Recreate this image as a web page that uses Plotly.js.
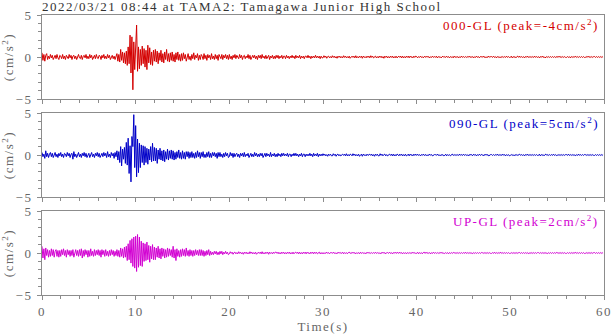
<!DOCTYPE html>
<html>
<head>
<meta charset="utf-8">
<script src="https://cdn.plot.ly/plotly-3.0.1.min.js"></script>
<style>
  html, body { margin: 0; padding: 0; background: #fff; }
  #wave { width: 612px; height: 334px; }
  text { letter-spacing: 1.5px; }
</style>
</head>
<body>
<div id="wave"></div>
<script>
// acceleration, one value every 0.1 s (one row = 1 s)
var dt = 0.1;

var ns = [
  0.5,-0.4,0.3,-0.5,0.2,0.4,-0.3,0.1,-0.2,0.3,
  -0.1,0.2,-0.3,0.1,0.2,-0.2,0.3,-0.1,-0.3,0.2,
  0.1,-0.2,0.3,-0.2,0.1,-0.3,0.2,0.0,-0.2,0.3,
  -0.1,0.2,-0.3,0.1,0.2,-0.2,0.1,-0.3,0.2,0.3,
  -0.1,-0.2,0.2,-0.3,0.1,0.2,-0.1,0.3,-0.2,0.1,
  -0.2,0.3,-0.1,0.2,-0.3,0.1,0.2,-0.2,0.3,-0.1,
  -0.2,0.2,0.1,-0.3,0.2,-0.1,0.3,-0.2,0.1,-0.2,
  0.3,-0.1,0.2,-0.3,0.1,0.2,-0.2,0.1,-0.3,0.2,
  0.4,-0.5,0.3,-0.6,0.9,-0.4,0.6,-0.7,0.5,-0.8,
  0.7,-1.0,1.2,-0.8,2.6,-1.9,2.4,-3.9,1.8,-1.5,
  2.5,3.8,-1.7,1.2,-1.4,0.9,-1.0,1.3,-0.8,1.0,
  -1.2,0.8,-1.5,1.4,-0.7,1.1,-0.9,0.6,-1.0,0.8,
  -0.5,0.9,-0.6,0.7,-0.8,0.5,-0.4,0.8,-0.6,0.4,
  -0.7,0.6,-0.3,0.9,-0.5,0.4,-0.6,0.5,-0.4,0.6,
  -0.5,0.3,-0.6,0.5,-0.3,0.6,-0.4,0.3,-0.5,0.4,
  -0.4,0.5,-0.2,0.3,-0.5,0.2,0.4,-0.3,0.1,-0.4,
  0.3,-0.2,0.5,-0.3,0.2,-0.1,0.4,-0.4,0.2,-0.3,
  0.3,0.1,-0.3,0.4,-0.2,0.2,-0.4,0.3,-0.1,0.2,
  -0.3,0.4,-0.2,0.1,-0.3,0.3,-0.2,0.2,-0.4,0.3,
  0.1,-0.2,0.3,-0.3,0.2,-0.1,0.3,-0.2,0.2,-0.3,
  0.3,-0.2,0.1,-0.3,0.2,-0.1,0.3,-0.2,0.2,0.0,
  -0.2,0.3,-0.1,0.2,-0.3,0.1,0.2,-0.2,0.1,-0.1,
  0.3,-0.2,0.2,-0.3,0.1,0.2,-0.1,0.2,-0.2,0.1,
  -0.3,0.2,-0.1,0.2,-0.2,0.3,-0.1,0.1,-0.2,0.2,
  -0.2,0.1,0.2,-0.3,0.1,-0.1,0.2,-0.2,0.1,-0.2,
  0.2,-0.1,0.2,-0.2,0.1,-0.1,0.2,-0.2,0.1,0.1,
  -0.2,0.2,-0.1,0.1,-0.2,0.1,-0.1,0.2,-0.1,0.1,
  -0.2,0.2,-0.1,0.1,-0.1,0.2,-0.2,0.1,-0.1,0.1,
  -0.2,0.1,0.1,-0.1,0.2,-0.1,0.1,-0.2,0.1,-0.1,
  0.1,-0.1,0.2,-0.1,0.1,-0.1,0.1,-0.2,0.1,-0.1,
  -0.1,0.15,-0.05,0.1,-0.15,0.05,0.1,-0.1,0.05,-0.1,
  0.15,-0.05,0.1,-0.1,0.05,-0.15,0.1,-0.05,0.1,-0.1,
  0.05,-0.1,0.15,-0.05,0.1,-0.1,0.05,-0.1,0.1,-0.15,
  0.05,0.1,-0.05,0.1,-0.1,0.15,-0.1,0.05,-0.1,0.1,
  -0.05,0.1,-0.15,0.1,-0.05,0.05,-0.1,0.1,-0.05,0.1,
  -0.1,0.15,-0.05,0.1,-0.1,0.05,0.1,-0.1,0.05,-0.1,
  0.1,-0.05,0.1,-0.1,0.05,-0.15,0.1,-0.05,0.1,-0.1,
  0.05,-0.1,0.1,-0.05,0.1,-0.1,0.05,-0.1,0.1,-0.1,
  0.05,0.1,-0.05,0.1,-0.1,0.1,-0.1,0.05,-0.1,0.1,
  -0.05,0.1,-0.1,0.1,-0.05,0.05,-0.1,0.1,-0.05,0.1,
  0.05,-0.1,0.05,-0.05,0.1,-0.05,0.05,-0.1,0.05,0.05,
  -0.05,0.1,-0.05,0.05,-0.1,0.05,-0.05,0.1,-0.05,0.05,
  -0.05,0.1,-0.1,0.05,-0.05,0.05,-0.1,0.05,0.1,-0.05,
  0.05,-0.05,0.1,-0.05,0.05,-0.1,0.05,-0.05,0.05,-0.1,
  0.1,-0.05,0.05,-0.05,0.05,-0.1,0.05,-0.05,0.1,-0.05,
  0.05,-0.05,0.05,-0.05,0.05,-0.05,0.1,-0.05,0.05,-0.05,
  0.05,-0.1,0.05,-0.05,0.1,-0.05,0.05,-0.1,0.05,0.05,
  -0.05,0.1,-0.05,0.05,-0.1,0.05,-0.05,0.1,-0.05,0.05,
  0.05,-0.05,0.1,-0.05,0.05,-0.1,0.05,-0.05,0.05,-0.1,
  0.05,-0.05,0.05,-0.05,0.05,-0.05,0.1,-0.05,0.05,-0.05,
  -0.05,0.1,-0.1,0.05,-0.05,0.05,-0.1,0.05,0.1,-0.05,
  0.1,-0.05,0.05,-0.05,0.05,-0.1,0.05,-0.05,0.1,-0.05,
  0.05,-0.05,0.05,-0.05,0.05,-0.05,0.1,-0.05,0.05,-0.05,
  0.05,-0.1,0.05,-0.05,0.1,-0.05,0.05,-0.1,0.05,0.05,
  -0.05,0.05,-0.05,0.05,-0.05,0.05,-0.05,0.05,-0.05,0.05,
  0.05,-0.05,0.1,-0.05,0.05,-0.05,0.05,-0.05,0.05,-0.05,
  -0.05,0.05,-0.05,0.05,-0.1,0.05,-0.05,0.05,-0.05,0.05,
  0.05,-0.05,0.05,-0.05,0.05,-0.05,0.05,-0.05,0.05,-0.05,
  -0.05,0.05,-0.05,0.1,-0.05,0.05,-0.05,0.05,-0.05,0.05,
  0.05,-0.05,0.05,-0.05,0.05,-0.05,0.05,-0.05,0.05,-0.05
];

var ew = [
  0.3,-0.2,0.1,-0.4,0.5,-0.2,0.2,-0.3,0.1,0.3,
  -0.2,0.2,-0.3,0.1,0.3,-0.2,0.1,-0.3,0.2,-0.1,
  0.3,-0.2,0.1,-0.3,0.2,0.1,-0.2,0.3,-0.1,0.2,
  -0.3,0.1,0.2,-0.5,0.4,-0.2,0.1,-0.3,0.2,0.3,
  -0.2,0.1,-0.3,0.2,-0.1,0.3,-0.2,0.2,-0.3,0.1,
  0.2,-0.3,0.1,0.3,-0.2,0.1,-0.3,0.2,-0.1,0.3,
  -0.2,0.2,-0.3,0.1,0.2,-0.2,0.3,-0.1,0.2,-0.3,
  0.4,-0.2,0.1,-0.3,0.3,-0.1,0.2,-0.4,0.3,-0.2,
  0.5,-0.6,0.4,-0.9,1.0,-1.3,0.7,-0.5,0.9,-1.0,
  1.5,-1.2,2.0,-2.2,1.1,-3.2,2.2,1.0,4.8,-1.5,
  3.5,-2.6,1.9,-2.1,1.4,-1.5,1.2,-0.9,1.1,-1.2,
  1.0,-0.9,0.8,-1.1,0.7,-0.6,1.0,-0.8,1.4,-0.7,
  0.9,-0.7,0.8,-1.0,0.6,-0.5,0.8,-0.6,0.5,-0.7,
  0.6,-0.8,0.4,-0.5,0.7,-0.6,0.5,-0.4,0.6,-0.5,
  0.5,-0.6,0.3,-0.5,0.4,-0.3,0.6,-0.4,0.3,-0.5,
  0.5,-0.4,0.3,-0.5,0.4,-0.2,0.4,-0.4,0.3,-0.3,
  0.4,-0.3,0.2,-0.4,0.3,-0.3,0.5,-0.2,0.3,-0.4,
  0.3,-0.2,0.4,-0.3,0.1,-0.3,0.3,-0.2,0.4,-0.3,
  0.2,-0.3,0.3,-0.1,0.3,-0.2,0.2,-0.4,0.3,-0.2,
  0.3,-0.2,0.1,-0.3,0.2,-0.2,0.3,-0.1,0.2,-0.3,
  -0.2,0.3,-0.1,0.2,-0.3,0.2,-0.2,0.1,0.2,-0.2,
  0.1,-0.3,0.2,-0.1,0.2,-0.2,0.3,-0.2,0.1,-0.1,
  0.2,-0.3,0.1,0.2,-0.2,0.1,-0.2,0.3,-0.1,0.2,
  -0.2,0.1,-0.2,0.2,-0.1,0.2,-0.3,0.1,0.2,-0.2,
  0.2,-0.1,0.1,-0.2,0.3,-0.2,0.1,-0.1,0.2,-0.2,
  0.1,-0.2,0.2,-0.1,0.1,-0.2,0.2,-0.1,0.2,-0.1,
  0.1,-0.1,0.2,-0.2,0.1,0.1,-0.2,0.1,-0.1,0.2,
  -0.1,0.2,-0.1,0.1,-0.2,0.1,-0.1,0.2,-0.2,0.1,
  0.1,-0.2,0.1,-0.1,0.1,-0.1,0.2,-0.1,0.1,-0.2,
  0.2,-0.1,0.1,-0.1,0.2,-0.2,0.1,-0.1,0.1,-0.1,
  0.15,-0.05,0.1,-0.1,0.05,-0.15,0.1,-0.05,0.1,-0.1,
  -0.1,0.15,-0.05,0.1,-0.15,0.05,0.1,-0.1,0.05,-0.1,
  0.05,0.1,-0.05,0.1,-0.1,0.15,-0.1,0.05,-0.1,0.1,
  0.05,-0.1,0.15,-0.05,0.1,-0.1,0.05,-0.1,0.1,-0.15,
  -0.05,0.1,-0.15,0.1,-0.05,0.05,-0.1,0.1,-0.05,0.1,
  0.1,-0.05,0.1,-0.1,0.05,-0.15,0.1,-0.05,0.1,-0.1,
  -0.1,0.15,-0.05,0.1,-0.1,0.05,0.1,-0.1,0.05,-0.1,
  0.05,0.1,-0.05,0.1,-0.1,0.1,-0.1,0.05,-0.1,0.1,
  0.05,-0.1,0.1,-0.05,0.1,-0.1,0.05,-0.1,0.1,-0.1,
  -0.05,0.1,-0.1,0.1,-0.05,0.05,-0.1,0.1,-0.05,0.1,
  -0.05,0.1,-0.05,0.05,-0.1,0.05,-0.05,0.1,-0.05,0.05,
  0.05,-0.1,0.05,-0.05,0.1,-0.05,0.05,-0.1,0.05,0.05,
  0.05,-0.05,0.1,-0.05,0.05,-0.1,0.05,-0.05,0.05,-0.1,
  -0.05,0.1,-0.1,0.05,-0.05,0.05,-0.1,0.05,0.1,-0.05,
  0.05,-0.05,0.05,-0.05,0.05,-0.05,0.1,-0.05,0.05,-0.05,
  0.1,-0.05,0.05,-0.05,0.05,-0.1,0.05,-0.05,0.1,-0.05,
  -0.05,0.1,-0.05,0.05,-0.1,0.05,-0.05,0.1,-0.05,0.05,
  0.05,-0.1,0.05,-0.05,0.1,-0.05,0.05,-0.1,0.05,0.05,
  0.05,-0.05,0.05,-0.05,0.05,-0.05,0.1,-0.05,0.05,-0.05,
  0.05,-0.05,0.1,-0.05,0.05,-0.1,0.05,-0.05,0.05,-0.1,
  -0.05,0.05,-0.05,0.05,-0.1,0.05,-0.05,0.05,-0.05,0.05,
  0.1,-0.05,0.05,-0.05,0.05,-0.1,0.05,-0.05,0.1,-0.05,
  0.05,-0.05,0.05,-0.05,0.05,-0.05,0.05,-0.05,0.05,-0.05,
  -0.05,0.1,-0.1,0.05,-0.05,0.05,-0.1,0.05,0.1,-0.05,
  0.05,-0.05,0.05,-0.05,0.05,-0.05,0.1,-0.05,0.05,-0.05,
  -0.05,0.05,-0.05,0.05,-0.05,0.05,-0.05,0.05,-0.05,0.05,
  0.05,-0.05,0.1,-0.05,0.05,-0.05,0.05,-0.05,0.05,-0.05,
  -0.05,0.05,-0.05,0.1,-0.05,0.05,-0.05,0.05,-0.05,0.05,
  0.05,-0.05,0.05,-0.05,0.05,-0.05,0.05,-0.05,0.05,-0.05,
  -0.05,0.05,-0.05,0.05,-0.05,0.05,-0.05,0.05,-0.05,0.05
];

var ud = [
  0.8,-0.6,0.5,-0.8,0.6,-0.3,0.4,-0.5,0.3,-0.4,
  0.5,-0.3,0.4,-0.5,0.2,0.4,-0.4,0.3,-0.5,0.3,
  -0.4,0.4,-0.2,0.5,-0.3,0.3,-0.5,0.4,-0.2,0.3,
  -0.4,0.3,-0.3,0.4,-0.5,0.2,0.4,-0.3,0.3,-0.4,
  0.4,-0.3,0.5,-0.6,0.3,-0.4,0.4,-0.2,0.3,-0.5,
  0.3,-0.4,0.5,-0.3,0.2,-0.4,0.4,-0.3,0.3,-0.2,
  0.4,-0.3,0.3,-0.5,0.4,-0.2,0.3,-0.4,0.4,-0.3,
  0.2,-0.4,0.3,-0.3,0.4,-0.2,0.3,-0.4,0.2,-0.3,
  0.4,-0.4,0.3,-0.5,0.6,-0.4,0.5,-0.6,0.7,-0.5,
  0.8,-0.9,1.1,-0.8,1.5,-1.2,1.7,-1.6,1.9,-1.8,
  2.0,-2.2,2.2,-1.7,1.9,-1.5,1.4,-1.6,1.2,-1.0,
  1.1,-0.9,1.3,-0.8,0.9,-1.1,0.8,-0.7,1.0,-0.8,
  0.7,-0.8,0.6,-0.5,0.8,-0.6,0.5,-0.7,0.6,-0.4,
  0.5,-0.6,0.4,-0.5,0.6,-0.4,0.5,-0.3,0.4,-0.5,
  0.8,-0.6,0.4,-0.9,0.5,-0.4,0.3,-0.5,0.4,-0.4,
  0.5,-0.3,0.4,-0.4,0.6,-0.3,0.3,-0.4,0.4,-0.3,
  0.3,-0.4,0.3,-0.3,0.4,-0.2,0.3,-0.3,0.4,-0.3,
  0.4,-0.3,0.3,-0.4,0.2,-0.3,0.3,-0.2,0.4,-0.3,
  0.2,-0.2,0.1,-0.2,0.2,-0.1,0.2,-0.2,0.1,-0.2,
  0.2,-0.1,0.2,-0.2,0.1,-0.1,0.2,-0.1,0.1,-0.2,
  -0.1,0.15,-0.05,0.1,-0.15,0.05,0.1,-0.1,0.05,-0.1,
  0.15,-0.05,0.1,-0.1,0.05,-0.15,0.1,-0.05,0.1,-0.1,
  0.05,-0.1,0.15,-0.05,0.1,-0.1,0.05,-0.1,0.1,-0.15,
  0.05,0.1,-0.05,0.1,-0.1,0.15,-0.1,0.05,-0.1,0.1,
  -0.05,0.1,-0.15,0.1,-0.05,0.05,-0.1,0.1,-0.05,0.1,
  0.1,-0.05,0.1,-0.1,0.05,-0.1,0.1,-0.05,0.1,-0.1,
  0.05,-0.1,0.1,-0.05,0.1,-0.1,0.05,-0.1,0.1,-0.1,
  0.05,0.1,-0.05,0.1,-0.1,0.1,-0.1,0.05,-0.1,0.1,
  -0.05,0.1,-0.1,0.1,-0.05,0.05,-0.1,0.1,-0.05,0.1,
  -0.1,0.1,-0.05,0.1,-0.1,0.05,0.1,-0.1,0.05,-0.1,
  0.05,-0.1,0.05,-0.05,0.1,-0.05,0.05,-0.1,0.05,0.05,
  -0.05,0.1,-0.05,0.05,-0.1,0.05,-0.05,0.1,-0.05,0.05,
  -0.05,0.1,-0.1,0.05,-0.05,0.05,-0.1,0.05,0.1,-0.05,
  0.05,-0.05,0.1,-0.05,0.05,-0.1,0.05,-0.05,0.05,-0.1,
  0.1,-0.05,0.05,-0.05,0.05,-0.1,0.05,-0.05,0.1,-0.05,
  0.05,-0.05,0.05,-0.05,0.05,-0.05,0.1,-0.05,0.05,-0.05,
  0.05,-0.1,0.05,-0.05,0.1,-0.05,0.05,-0.1,0.05,0.05,
  -0.05,0.1,-0.05,0.05,-0.1,0.05,-0.05,0.1,-0.05,0.05,
  0.05,-0.05,0.1,-0.05,0.05,-0.1,0.05,-0.05,0.05,-0.1,
  0.05,-0.05,0.05,-0.05,0.05,-0.05,0.1,-0.05,0.05,-0.05,
  -0.05,0.1,-0.1,0.05,-0.05,0.05,-0.1,0.05,0.1,-0.05,
  0.1,-0.05,0.05,-0.05,0.05,-0.1,0.05,-0.05,0.1,-0.05,
  0.05,-0.05,0.05,-0.05,0.05,-0.05,0.1,-0.05,0.05,-0.05,
  -0.05,0.05,-0.05,0.05,-0.1,0.05,-0.05,0.05,-0.05,0.05,
  0.05,-0.05,0.05,-0.05,0.05,-0.05,0.05,-0.05,0.05,-0.05,
  0.05,-0.05,0.1,-0.05,0.05,-0.05,0.05,-0.05,0.05,-0.05,
  -0.05,0.05,-0.05,0.05,-0.05,0.05,-0.05,0.05,-0.05,0.05,
  0.05,-0.05,0.05,-0.05,0.05,-0.05,0.05,-0.05,0.05,-0.05,
  -0.05,0.05,-0.05,0.1,-0.05,0.05,-0.05,0.05,-0.05,0.05,
  0.05,-0.05,0.05,-0.05,0.05,-0.05,0.05,-0.05,0.05,-0.05,
  -0.05,0.05,-0.05,0.05,-0.05,0.05,-0.05,0.05,-0.05,0.05,
  0.05,-0.05,0.05,-0.05,0.05,-0.05,0.05,-0.05,0.05,-0.05,
  -0.05,0.05,-0.05,0.05,-0.05,0.05,-0.05,0.05,-0.05,0.05,
  0.05,-0.05,0.05,-0.05,0.05,-0.05,0.05,-0.05,0.05,-0.05,
  -0.05,0.05,-0.05,0.05,-0.05,0.05,-0.05,0.05,-0.05,0.05,
  0.05,-0.05,0.05,-0.05,0.05,-0.05,0.05,-0.05,0.05,-0.05,
  -0.05,0.05,-0.05,0.05,-0.05,0.05,-0.05,0.05,-0.05,0.05,
  0.05,-0.05,0.05,-0.05,0.05,-0.05,0.05,-0.05,0.05,-0.05,
  -0.05,0.05,-0.05,0.05,-0.05,0.05,-0.05,0.05,-0.05,0.05,
  0.05,-0.05,0.05,-0.05,0.05,-0.05,0.05,-0.05,0.05,-0.05
];

var names = ['000-GL', '090-GL', 'UP-GL'];
var peaks = ['-4', '5', '2'];
var colors = ['#d40000', '#0000c8', '#d200d2'];

var serif = 'Liberation Serif, Times New Roman, serif';
var frame = '#8c8c8c';
var grey = '#666';

var waves = [ns, ew, ud];
var data = [];
for (var i = 0; i < 3; i++) {
  data.push({
    y: waves[i],
    x0: 0,
    dx: dt,
    type: 'scatter',
    mode: 'lines',
    line: { color: colors[i], width: 1 },
    xaxis: i == 0 ? 'x' : 'x' + (i + 1),
    yaxis: i == 0 ? 'y' : 'y' + (i + 1),
    hoverinfo: 'skip'
  });
}

function xax(anchor, labels) {
  return {
    anchor: anchor,
    range: [0, 60],
    dtick: 10,
    ticks: 'outside',
    ticklen: 4,
    tickcolor: frame,
    minor: { dtick: 2, ticks: 'outside', ticklen: 3, tickcolor: frame },
    showticklabels: labels,
    tickfont: { family: serif, size: 13, color: grey },
    showline: true,
    mirror: true,
    linecolor: frame,
    linewidth: 1,
    showgrid: false,
    zeroline: false
  };
}

function yax(anchor, dom) {
  return {
    anchor: anchor,
    domain: dom,
    range: [-5, 5],
    tickvals: [-5, 0, 5],
    ticks: 'outside',
    ticklen: 4,
    tickcolor: frame,
    ticklabelstandoff: 2,
    minor: { dtick: 1, ticks: 'outside', ticklen: 3, tickcolor: frame },
    tickfont: { family: serif, size: 13, color: grey },
    title: { text: '(cm/s<sup>2</sup>)', font: { family: serif, size: 13, color: grey }, standoff: 4 },
    showline: true,
    mirror: true,
    linecolor: frame,
    linewidth: 1,
    showgrid: false,
    zeroline: false
  };
}

var annotations = [];
var tops = [1, 0.65, 0.3];
for (var k = 0; k < 3; k++) {
  annotations.push({
    xref: 'paper', yref: 'paper',
    x: 0.995, y: tops[k],
    xanchor: 'right', yanchor: 'top',
    showarrow: false,
    text: names[k] + ' (peak=' + peaks[k] + 'cm/s<sup>2</sup>)',
    font: { family: serif, size: 13, color: colors[k] }
  });
}

var layout = {
  width: 612,
  height: 334,
  margin: { l: 42, r: 8, t: 15, b: 39 },
  paper_bgcolor: '#fff',
  plot_bgcolor: '#fff',
  showlegend: false,
  title: {
    text: '2022/03/21 08:44 at TAMA2: Tamagawa Junior High School',
    font: { family: serif, size: 13, color: '#333' },
    x: 0, xref: 'paper', xanchor: 'left',
    y: 1, yref: 'paper', yanchor: 'bottom',
    pad: { b: 4 }
  },
  xaxis: xax('y', false),
  yaxis: yax('x', [0.7, 1]),
  xaxis2: xax('y2', false),
  yaxis2: yax('x2', [0.35, 0.65]),
  xaxis3: xax('y3', true),
  yaxis3: yax('x3', [0, 0.3]),
  annotations: annotations
};
layout.xaxis3.title = { text: 'Time(s)', font: { family: serif, size: 13, color: grey }, standoff: 2 };

Plotly.newPlot('wave', data, layout, { staticPlot: true });
</script>
</body>
</html>
